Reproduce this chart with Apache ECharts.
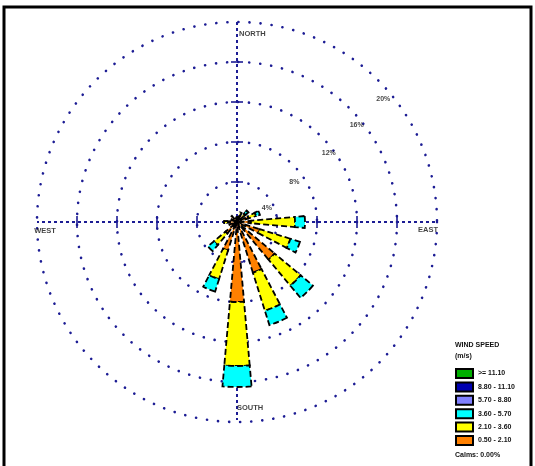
<!DOCTYPE html>
<html><head><meta charset="utf-8">
<script src="https://cdn.jsdelivr.net/npm/echarts@6/dist/echarts.min.js"></script>
<style>html,body{margin:0;padding:0;background:#fff}#c{width:535px;height:466px}</style>
</head><body><div id="c"></div><script>
// Direction categories (clockwise from north)
const directions = ['N','NNE','NE','ENE','E','ESE','SE','SSE','S','SSW','SW','WSW','W','WNW','NW','NNW'];
// Wind speed classes (m/s), lowest first
const speedClasses = ['0.50 - 2.10','2.10 - 3.60','3.60 - 5.70','5.70 - 8.80','8.80 - 11.10','>= 11.10'];
// Frequencies (%) per direction for each speed class
const freq_050_210 = [0.5,0.7,0.8,1.2,1.4,2.4,4.9,5.3,8.0,3.0,1.5,0.8,1.0,0.6,0.8,0.4];
const freq_210_360 = [0,0.3,0.4,0.8,4.4,3.2,3.4,4.0,6.4,3.0,1.5,0,0.3,0,0,0];
const freq_360_570 = [0,0,0.3,0.4,1.0,1.0,1.6,1.5,2.1,1.3,0.8,0,0,0,0,0];
const freq_570_880 = [0,0,0,0,0,0,0,0,0,0,0,0,0,0,0,0];
const freq_880_1110 = [0,0,0,0,0,0,0,0,0,0,0,0,0,0,0,0];
const freq_ge_1110 = [0,0,0,0,0,0,0,0,0,0,0,0,0,0,0,0];
// Ring ticks and labels
const ringTicks = [4,8,12,16,20];
const ringLabels = ['4%','8%','12%','16%','20%'];
const compassLabels = ['NORTH','EAST','SOUTH','WEST'];
const legendTitle = 'WIND SPEED';
const legendUnit = '(m/s)';
const calmsText = 'Calms: 0.00%';

const speedColors = ['#ff8000','#ffff00','#00ffff','#8080ff','#0000b0','#00b000'];
const allFreq = [freq_050_210, freq_210_360, freq_360_570, freq_570_880, freq_880_1110, freq_ge_1110];
const NAVY = '#1c1c94';
const CENTER = [237, 222];

const chart = echarts.init(document.getElementById('c'), null, {renderer:'canvas'});

const barSeries = speedClasses.map((name, i) => ({
  name: name,
  type: 'bar',
  coordinateSystem: 'polar',
  polarIndex: 0,
  stack: 'speed',
  barWidth: '45%',
  z: 5,
  data: allFreq[i].map(v => v === 0 ? null : v),
  itemStyle: {color: speedColors[i], borderColor: '#000', borderWidth: 1.8, borderType: [6,3]},
  emphasis: {disabled: true},
  animation: false
}));

const labelAngles = [65, 55, 53, 51, 50];
const labelInset = [0.7, 1.0, 0.5, 0.6, 0.9];

const txt = {fontSize: 7, fontWeight: 'bold', color: '#111', fontFamily: 'Liberation Sans, Arial, sans-serif'};

const option = {
  animation: false,
  backgroundColor: '#fff',
  polar: [{center: CENTER, radius: 200}, {center: CENTER, radius: 200}],
  angleAxis: [
    {polarIndex: 0, type: 'category', data: directions, startAngle: 101.25, clockwise: true, boundaryGap: true,
     axisLine: {show: false}, axisTick: {show: false}, axisLabel: {show: false}, splitLine: {show: false}},
    {polarIndex: 1, type: 'value', min: 0, max: 360, startAngle: 90, clockwise: true,
     axisLine: {show: false}, axisTick: {show: false}, axisLabel: {show: false}, splitLine: {show: false}}
  ],
  radiusAxis: [
    {polarIndex: 0, type: 'value', min: 0, max: 20, interval: 4,
     axisLine: {show: false}, axisTick: {show: false}, axisLabel: {show: false},
     splitLine: {show: true, lineStyle: {color: NAVY, width: 2.6, type: [0.1, 11], cap: 'round'}}},
    {polarIndex: 1, type: 'value', min: 0, max: 20,
     axisLine: {show: false}, axisTick: {show: false}, axisLabel: {show: false}, splitLine: {show: false}}
  ],
  legend: {
    orient: 'vertical', left: 455, top: 368, padding: 0, itemWidth: 17, itemHeight: 9, itemGap: 2.4,
    icon: 'rect', selectedMode: false,
    data: speedClasses.slice().reverse(),
    itemStyle: {borderColor: '#000', borderWidth: 2, borderType: 'solid'},
    textStyle: Object.assign({lineHeight: 9, padding: [0,0,0,0]}, txt)
  },
  graphic: [
    {type: 'rect', shape: {x: 4, y: 7, width: 527, height: 470}, style: {fill: null, stroke: '#000', lineWidth: 3}, z: 100},
    {type: 'text', left: 455, top: 342, style: {text: legendTitle, fill: '#111', font: 'bold 7px Liberation Sans'}},
    {type: 'text', left: 455, top: 353, style: {text: legendUnit, fill: '#111', font: 'bold 7px Liberation Sans'}},
    {type: 'text', left: 455, top: 452, style: {text: calmsText, fill: '#111', font: 'bold 7px Liberation Sans'}}
  ],
  series: [
    {type: 'line', coordinateSystem: 'polar', polarIndex: 1, symbol: 'none', z: 1, silent: true,
     data: [[20.0, 0], [0, 0], [19.8, 180]],
     lineStyle: {color: NAVY, width: 2, type: [3, 3]}},
    {type: 'line', coordinateSystem: 'polar', polarIndex: 1, symbol: 'none', z: 1, silent: true,
     data: [[20.7, 270], [0, 0], [20.6, 90]],
     lineStyle: {color: NAVY, width: 2, type: [3, 3]}},
    {type: 'scatter', coordinateSystem: 'polar', polarIndex: 1, symbol: 'rect', symbolSize: [12, 2], z: 2, silent: true,
     itemStyle: {color: NAVY},
     data: ringTicks.slice(0,4).flatMap(t => [[t, 0], [t, 180]])},
    {type: 'scatter', coordinateSystem: 'polar', polarIndex: 1, symbol: 'rect', symbolSize: [2, 12], z: 2, silent: true,
     itemStyle: {color: NAVY},
     data: ringTicks.slice(0,4).flatMap(t => [[t, 90], [t, 270]])},
    {type: 'scatter', coordinateSystem: 'polar', polarIndex: 1, symbolSize: 0, z: 6, silent: true,
     data: ringTicks.map((t, i) => ({value: [t - labelInset[i], labelAngles[i]], name: ringLabels[i]})),
     label: Object.assign({show: true, position: 'inside', formatter: p => p.name}, txt)},
    {type: 'scatter', coordinateSystem: 'polar', polarIndex: 1, symbolSize: 0, z: 6, silent: true,
     data: [
       {value: [18.8, 0], name: compassLabels[0], label: {position: 'right', distance: 2}},
       {value: [19.1, 90], name: compassLabels[1], label: {position: 'inside', offset: [0, 8]}},
       {value: [18.6, 180], name: compassLabels[2], label: {position: 'right', distance: 0}},
       {value: [19.2, 270], name: compassLabels[3], label: {position: 'inside', offset: [0, 9]}}
     ],
     label: Object.assign({show: true, formatter: p => p.name}, txt, {fontSize: 7.5})}
  ].concat(barSeries)
};
chart.setOption(option);
</script></body></html>
